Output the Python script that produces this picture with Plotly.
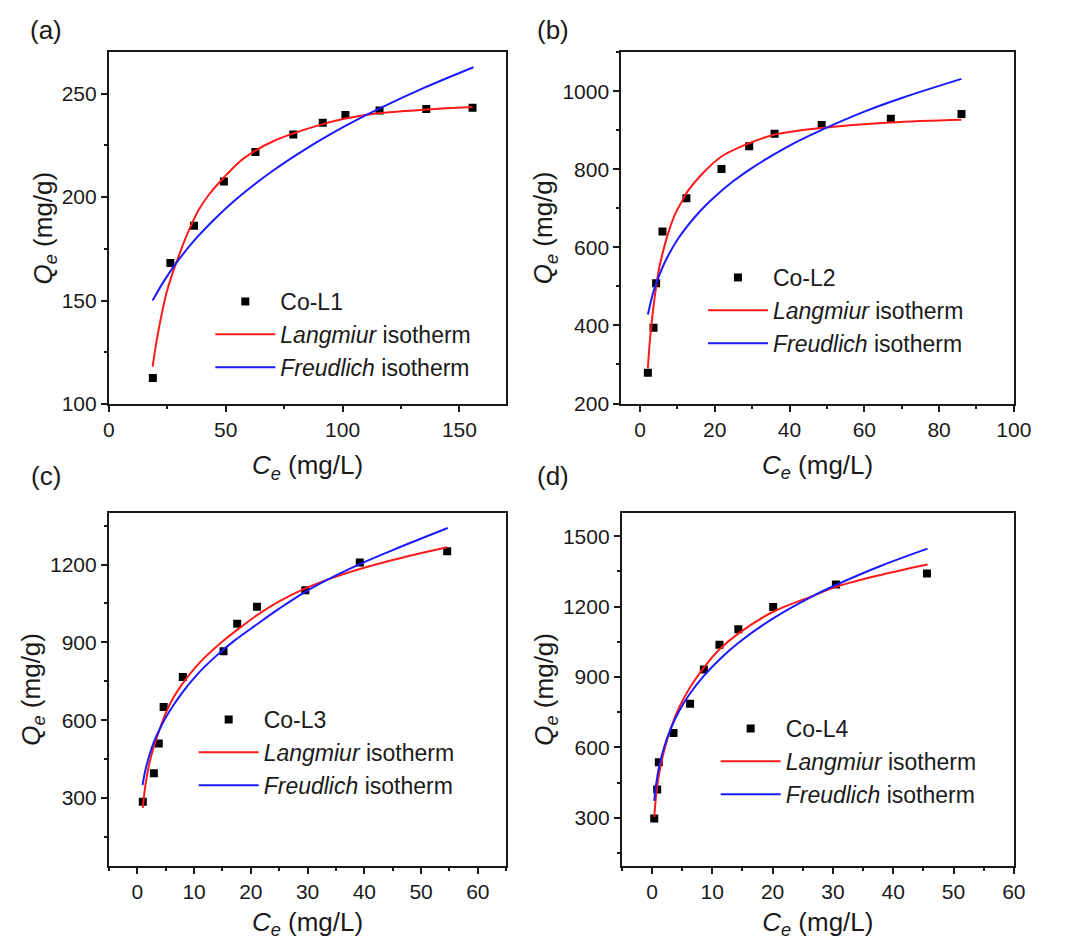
import plotly.graph_objects as go

# ---------------- data ----------------
# (a) Co-L1
a_ce = [18.8, 26.3, 36.4, 49.2, 62.7, 78.9, 91.5, 101.2, 115.8, 135.8, 155.6]
a_qe = [112.6, 168.1, 186.1, 207.6, 221.8, 230.3, 236.0, 239.7, 241.9, 242.6, 243.2]
a_lang_c = [18.7, 20.4, 22.5, 24.6, 27.3, 29.4, 32.2, 35.0, 38.5, 43.0, 49.2, 56.3, 62.7, 70.3, 78.9, 91.5, 101.2, 115.0, 135.8, 155.6]
a_lang_q = [118.0, 130.5, 143.0, 153.5, 163.5, 170.0, 178.5, 186.0, 194.0, 201.5, 209.5, 217.5, 222.5, 227.0, 230.8, 235.3, 238.0, 240.5, 242.3, 243.5]
a_freu_c = [18.7, 23.2, 28.7, 37.1, 45.5, 55.2, 70.0, 85.0, 101.2, 115.0, 135.0, 156.0]
a_freu_q = [150.0, 158.8, 168.0, 179.8, 189.7, 199.7, 212.6, 223.8, 234.4, 242.4, 252.9, 262.8]

# (b) Co-L2
b_ce = [2.1, 3.6, 4.3, 6.0, 12.4, 21.8, 29.2, 36.0, 48.6, 67.1, 86.0]
b_qe = [279, 394, 508, 641, 726, 801, 859, 891, 914, 930, 942]
b_lang_c = [2.1, 2.5, 3.0, 3.6, 4.3, 5.2, 6.5, 7.8, 9.5, 11.2, 12.4, 16.8, 21.8, 29.2, 36.0, 48.6, 67.1, 86.0]
b_lang_q = [290, 345, 397, 448, 499, 551, 602, 645, 688, 718, 739, 790, 833, 867, 889, 906, 920, 927]
b_freu_c = [2.1, 3.4, 4.6, 6.9, 10.3, 15.5, 20.0, 25.0, 30.0, 40.0, 48.6, 60.0, 70.0, 86.0]
b_freu_q = [428, 480, 515, 567, 624, 687, 730, 770, 804, 861, 901, 948, 983, 1032]

# (c) Co-L3
c_ce = [0.97, 2.92, 3.78, 4.64, 8.02, 15.19, 17.6, 21.09, 29.6, 39.2, 54.6]
c_qe = [286, 396, 510, 651, 767, 866, 972, 1037, 1101, 1208, 1251]
c_lang_c = [0.95, 1.4, 2.0, 2.8, 3.7, 5.1, 6.5, 8.0, 11.0, 15.1, 18.0, 21.1, 25.0, 29.6, 34.0, 39.2, 45.0, 54.6]
c_lang_q = [262, 345, 420, 490, 550, 632, 692, 742, 822, 905, 955, 1005, 1058, 1108, 1146, 1183, 1218, 1267]
c_freu_c = [0.92, 1.4, 2.2, 3.0, 4.0, 5.4, 7.7, 10.5, 14.0, 17.0, 21.1, 25.0, 29.6, 35.0, 39.2, 45.0, 54.7]
c_freu_q = [350, 405, 470, 520, 568, 625, 700, 775, 850, 905, 970, 1030, 1095, 1158, 1202, 1256, 1341]

# (d) Co-L4
d_ce = [0.38, 0.86, 1.14, 3.57, 6.32, 8.6, 11.19, 14.32, 20.1, 30.5, 45.6]
d_qe = [297, 421, 537, 662, 786, 932, 1037, 1104, 1198, 1294, 1341]
d_lang_c = [0.38, 0.7, 1.2, 2.0, 3.2, 4.5, 6.3, 8.6, 11.2, 14.3, 20.1, 26.9, 30.5, 38.0, 45.7]
d_lang_q = [304, 400, 490, 585, 688, 770, 855, 940, 1018, 1085, 1178, 1248, 1284, 1335, 1379]
d_freu_c = [0.38, 0.7, 1.2, 2.0, 3.2, 4.5, 6.3, 8.6, 11.2, 14.3, 20.1, 26.9, 30.5, 38.0, 45.7]
d_freu_q = [372, 445, 520, 600, 685, 755, 830, 905, 975, 1045, 1150, 1248, 1292, 1374, 1447]

sample_names = ["Co-L1", "Co-L2", "Co-L3", "Co-L4"]
panel_labels = ["(a)", "(b)", "(c)", "(d)"]
lang_name = "<i>Langmiur</i> isotherm"
freu_name = "<i>Freudlich</i> isotherm"

# ---------------- layout helpers ----------------
W, H = 1067, 940
MB = 30                      # bottom margin (room for the lower x titles)
PH = H - MB                  # plotting-area height
FONT = "Arial, Liberation Sans, Arimo, sans-serif"
INK = "#1a1a1a"

def px_x(p):
    return p / W

def px_y(p):
    return 1 - p / PH

panels = [
    dict(ce=a_ce, qe=a_qe, lc=a_lang_c, lq=a_lang_q, fc=a_freu_c, fq=a_freu_q,
         xd=(105.3, 511.7), yd=(52.3, 404.0), xr=[0, 170], yr=[100, 270],
         xdt=50, xmin=25, ydt=50, ymin=25, leg=(209, 280), lab=(41, 30)),
    dict(ce=b_ce, qe=b_qe, lc=b_lang_c, lq=b_lang_q, fc=b_freu_c, fq=b_freu_q,
         xd=(629.5, 1031.0), yd=(52.3, 403.5), xr=[-5, 100], yr=[200, 1100],
         xdt=20, xmin=10, ydt=200, ymin=100, leg=(713, 256), lab=(560, 30)),
    dict(ce=c_ce, qe=c_qe, lc=c_lang_c, lq=c_lang_q, fc=c_freu_c, fq=c_freu_q,
         xd=(105.3, 511.7), yd=(512.7, 866.0), xr=[-5, 65], yr=[38, 1400],
         xdt=10, xmin=5, ydt=300, ymin=150, leg=(192, 698), lab=(41, 476)),
    dict(ce=d_ce, qe=d_qe, lc=d_lang_c, lq=d_lang_q, fc=d_freu_c, fq=d_freu_q,
         xd=(630.0, 1031.0), yd=(512.7, 866.0), xr=[-5, 60], yr=[95, 1600],
         xdt=10, xmin=5, ydt=300, ymin=150, leg=(726, 707), lab=(560, 476)),
]

fig = go.Figure()
layout = dict(
    width=W, height=H,
    margin=dict(l=0, r=0, t=0, b=MB, pad=0),
    paper_bgcolor="white", plot_bgcolor="white",
    font=dict(family=FONT, color=INK, size=21),
    annotations=[],
)

for i, p in enumerate(panels):
    n = i + 1
    xa = "x" if n == 1 else f"x{n}"
    ya = "y" if n == 1 else f"y{n}"
    lg = "legend" if n == 1 else f"legend{n}"

    fig.add_trace(go.Scatter(
        x=p["ce"], y=p["qe"], mode="markers", name=sample_names[i],
        marker=dict(symbol="square", size=8, color="black"),
        xaxis=xa, yaxis=ya, legend=lg))
    fig.add_trace(go.Scatter(
        x=p["lc"], y=p["lq"], mode="lines", name=lang_name,
        line=dict(color="#ff1a1a", width=2, shape="spline", smoothing=1.0),
        xaxis=xa, yaxis=ya, legend=lg))
    fig.add_trace(go.Scatter(
        x=p["fc"], y=p["fq"], mode="lines", name=freu_name,
        line=dict(color="#1a1aff", width=2, shape="spline", smoothing=1.0),
        xaxis=xa, yaxis=ya, legend=lg))

    axis_common = dict(
        showline=True, linecolor=INK, linewidth=2, mirror=True,
        ticks="outside", ticklen=6, tickwidth=1.5, tickcolor=INK,
        showgrid=False, zeroline=False,
        tickfont=dict(family=FONT, size=21, color=INK),
    )
    xkey = "xaxis" if n == 1 else f"xaxis{n}"
    ykey = "yaxis" if n == 1 else f"yaxis{n}"
    layout[xkey] = dict(
        axis_common,
        domain=[px_x(p["xd"][0]), px_x(p["xd"][1])],
        range=p["xr"], tick0=0, dtick=p["xdt"],
        minor=dict(ticks="outside", ticklen=3, tickwidth=1.5, tickcolor=INK,
                   dtick=p["xmin"], tick0=0, showgrid=False),
        anchor=ya,
        title=dict(text="<i>C</i><sub><i>e</i></sub> (mg/L)",
                   font=dict(family=FONT, size=26, color=INK), standoff=16),
    )
    layout[ykey] = dict(
        axis_common,
        domain=[px_y(p["yd"][1]), px_y(p["yd"][0])],
        range=p["yr"], tick0=0, dtick=p["ydt"],
        minor=dict(ticks="outside", ticklen=3, tickwidth=1.5, tickcolor=INK,
                   dtick=p["ymin"], tick0=0, showgrid=False),
        anchor=xa,
        title=dict(text="<i>Q</i><sub><i>e</i></sub> (mg/g)",
                   font=dict(family=FONT, size=26, color=INK), standoff=2),
    )
    layout[lg] = dict(
        x=px_x(p["leg"][0]), y=px_y(p["leg"][1]),
        xanchor="left", yanchor="top",
        bgcolor="rgba(0,0,0,0)", borderwidth=0,
        font=dict(family=FONT, size=23, color=INK),
        itemwidth=60, tracegroupgap=0,
    )
    layout["annotations"].append(dict(
        text=panel_labels[i], xref="paper", yref="paper",
        x=px_x(p["lab"][0]), y=px_y(p["lab"][1]),
        xanchor="center", yanchor="middle", showarrow=False,
        font=dict(family=FONT, size=26, color=INK)))

fig.update_layout(**layout)
fig.write_html(
    "out.html",
    post_script=(
        "document.documentElement.style.margin='0';"
        "document.documentElement.style.overflow='hidden';"
        "document.body.style.margin='0';"
        "document.body.style.overflow='hidden';"
    ),
)
